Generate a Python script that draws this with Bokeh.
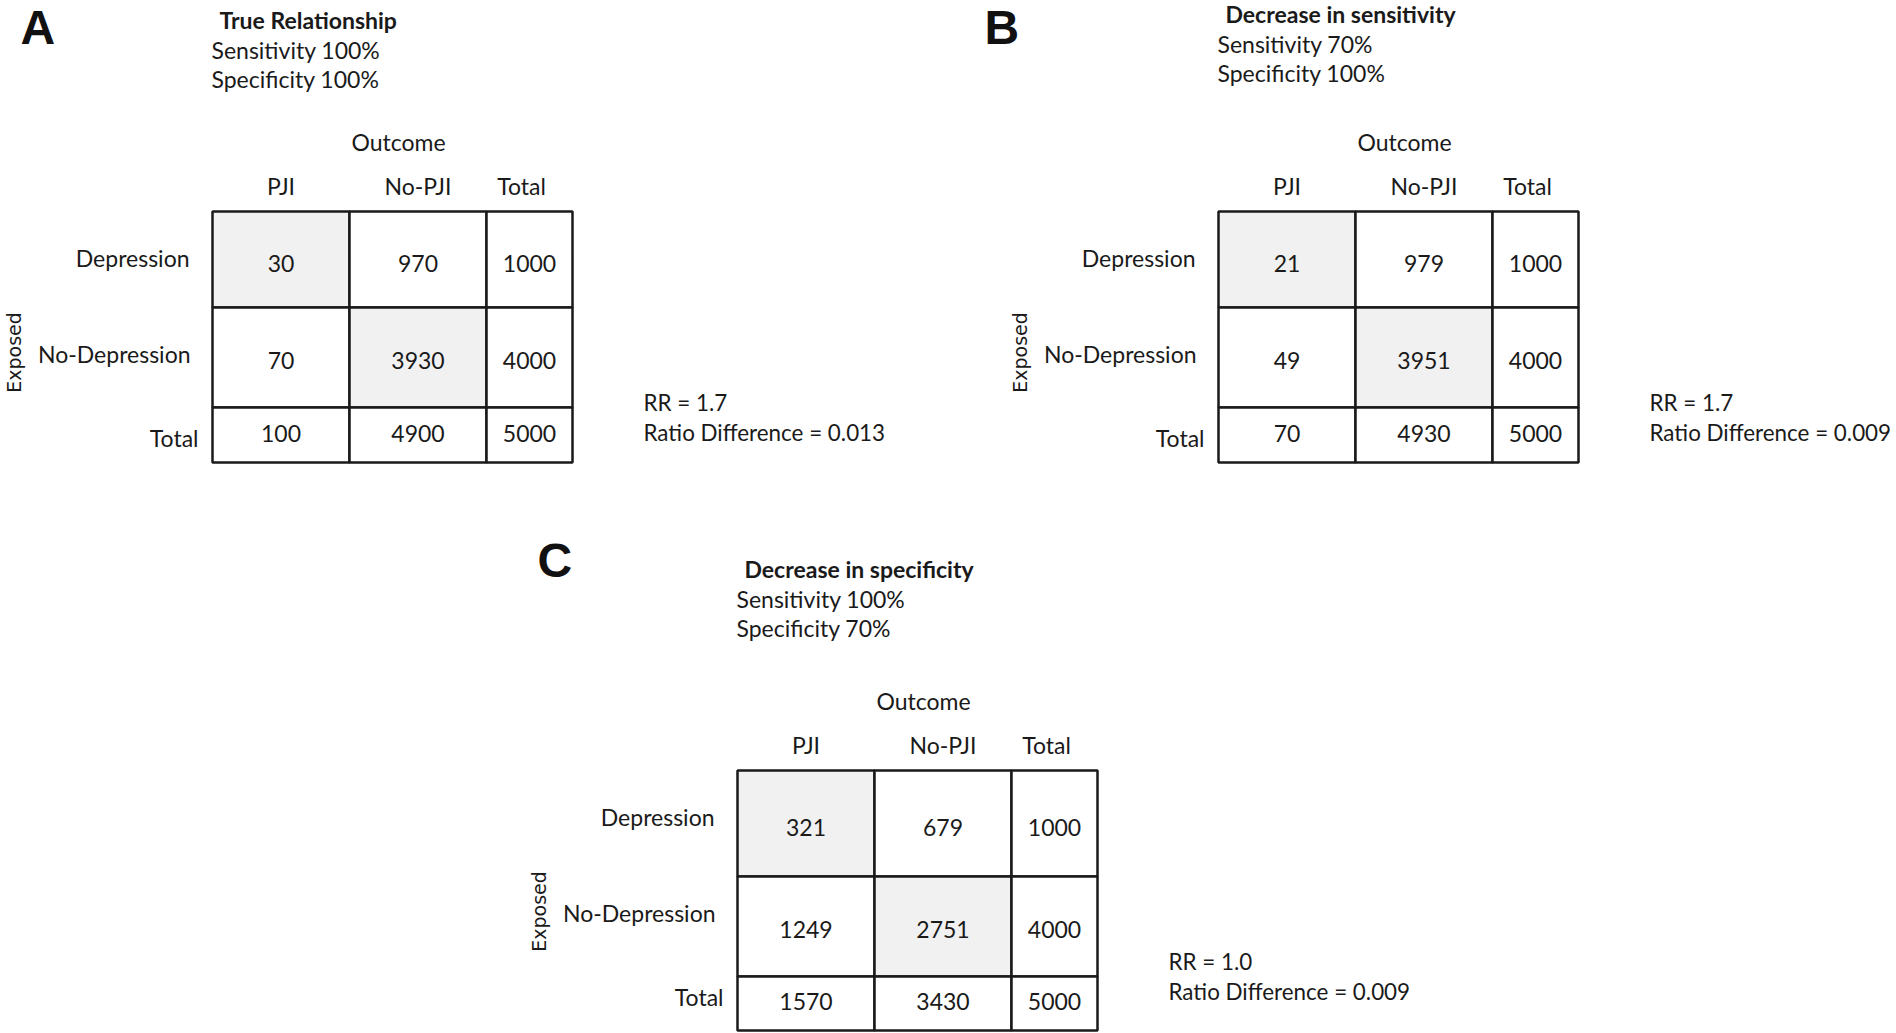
import math
from bokeh.plotting import figure
from bokeh.models import Range1d, ColumnDataSource
from bokeh.embed import file_html
from bokeh.resources import INLINE
from bokeh.core.properties import value

# ---------------- data ----------------
panel_letters = ["A", "B", "C"]
panel_titles = ["True Relationship", "Decrease in sensitivity", "Decrease in specificity"]
sensitivity = [100, 70, 100]
specificity = [100, 100, 70]
col_labels = ["PJI", "No-PJI", "Total"]
row_labels = ["Depression", "No-Depression", "Total"]
counts_A = [[30, 970, 1000], [70, 3930, 4000], [100, 4900, 5000]]
counts_B = [[21, 979, 1000], [49, 3951, 4000], [70, 4930, 5000]]
counts_C = [[321, 679, 1000], [1249, 2751, 4000], [1570, 3430, 5000]]
rr = [1.7, 1.7, 1.0]
ratio_diff = [0.013, 0.009, 0.009]

panels = [counts_A, counts_B, counts_C]

# ---------------- layout (window pixel coordinates) ----------------
W, H = 1896, 1033
origins = [(212, 211), (1218, 211), (737, 770)]
col_w = [137, 137, 86]
row_h = [[96, 100, 55], [96, 100, 55], [106, 100, 54]]
title_dy = [0, -6, -10]
letter_pos = [(20, 27), (984, 27), (537, 560)]
val_dy = [4, 3, -2]
hdr_dx = [0, 0, -8]
lab_dy = [46, 142, 226]
lab_dx = [-23, -22, -14]

FONT = value("Lato")
TXT = "#1a1a1a"
FS = "23px"

p = figure(width=W, height=H, x_range=Range1d(0, W), y_range=Range1d(H, 0),
           min_border=0, toolbar_location=None, output_backend="svg",
           x_axis_type=None, y_axis_type=None)
p.grid.visible = False
p.outline_line_color = None
p.background_fill_color = "white"
p.border_fill_color = "white"

cells = dict(left=[], right=[], top=[], bottom=[], fill=[])
vals = dict(x=[], y=[], text=[])
hdrs = dict(x=[], y=[], text=[])
labs = dict(x=[], y=[], text=[])
reg = dict(x=[], y=[], text=[])
bold = dict(x=[], y=[], text=[])
outc = dict(x=[], y=[], text=[])
expo = dict(x=[], y=[], text=[])
letters = dict(x=[], y=[], text=[])
stats = dict(x=[], y=[], text=[])

for k, counts in enumerate(panels):
    ox, oy = origins[k]
    rh = row_h[k]
    xs = [ox + sum(col_w[:j]) for j in range(len(col_w) + 1)]
    ys = [oy + sum(rh[:i]) for i in range(len(rh) + 1)]
    for i in range(len(row_labels)):
        for j in range(len(col_labels)):
            cells["left"].append(xs[j]); cells["right"].append(xs[j + 1])
            cells["top"].append(ys[i]); cells["bottom"].append(ys[i + 1])
            cells["fill"].append("#f1f1f1" if (i == j and i < 2) else "white")
            vals["x"].append((xs[j] + xs[j + 1]) / 2)
            vals["y"].append((ys[i] + ys[i + 1]) / 2 + val_dy[i])
            vals["text"].append(str(counts[i][j]))
    for j, c in enumerate(col_labels):
        hdrs["x"].append((xs[j] + xs[j + 1]) / 2 + hdr_dx[j])
        hdrs["y"].append(oy - 26)
        hdrs["text"].append(c)
    for i, r in enumerate(row_labels):
        labs["x"].append(ox + lab_dx[i])
        labs["y"].append(oy + lab_dy[i])
        labs["text"].append(r)
    td = title_dy[k]
    bold["x"].append(ox + 7); bold["y"].append(oy - 192 + td); bold["text"].append(panel_titles[k])
    reg["x"] += [ox - 1, ox - 1]
    reg["y"] += [oy - 162 + td, oy - 133 + td]
    reg["text"] += [f"Sensitivity {sensitivity[k]}%", f"Specificity {specificity[k]}%"]
    outc["x"].append(ox + 186); outc["y"].append(oy - 70); outc["text"].append("Outcome")
    expo["x"].append(ox - 199); expo["y"].append(oy + 141); expo["text"].append("Exposed")
    letters["x"].append(letter_pos[k][0]); letters["y"].append(letter_pos[k][1])
    letters["text"].append(panel_letters[k])
    stats["x"] += [ox + 431, ox + 431]
    stats["y"] += [oy + 191, oy + 221]
    stats["text"] += [f"RR = {rr[k]:.1f}", f"Ratio Difference = {ratio_diff[k]:.3f}"]

p.quad(left="left", right="right", top="top", bottom="bottom", fill_color="fill",
       line_color="#1a1a1a", line_width=2.5, source=ColumnDataSource(cells))

common = dict(text_font=FONT, text_color=TXT, text_font_size=FS, text_baseline="middle")
p.text(x="x", y="y", text="text", source=ColumnDataSource(vals), text_align="center", **common)
p.text(x="x", y="y", text="text", source=ColumnDataSource(hdrs), text_align="center", **common)
p.text(x="x", y="y", text="text", source=ColumnDataSource(outc), text_align="center", **common)
p.text(x="x", y="y", text="text", source=ColumnDataSource(labs), text_align="right", **common)
p.text(x="x", y="y", text="text", source=ColumnDataSource(stats), text_align="left",
       text_font=FONT, text_color=TXT, text_font_size="22.4px", text_baseline="middle")
p.text(x="x", y="y", text="text", source=ColumnDataSource(reg), text_align="left", **common)
p.text(x="x", y="y", text="text", source=ColumnDataSource(bold), text_align="left",
       text_font_style="bold", **common)
p.text(x="x", y="y", text="text", source=ColumnDataSource(expo),
       text_align="center", text_baseline="middle", angle=math.pi / 2,
       text_font=value("DejaVu Sans"), text_font_size="19px", text_color=TXT)
p.text(x="x", y="y", text="text", source=ColumnDataSource(letters),
       text_align="left", text_baseline="middle", text_font_style="bold",
       text_font=value("Liberation Sans"), text_font_size="48px", text_color="#111111")

open("out.html", "w").write(file_html(p, INLINE))
